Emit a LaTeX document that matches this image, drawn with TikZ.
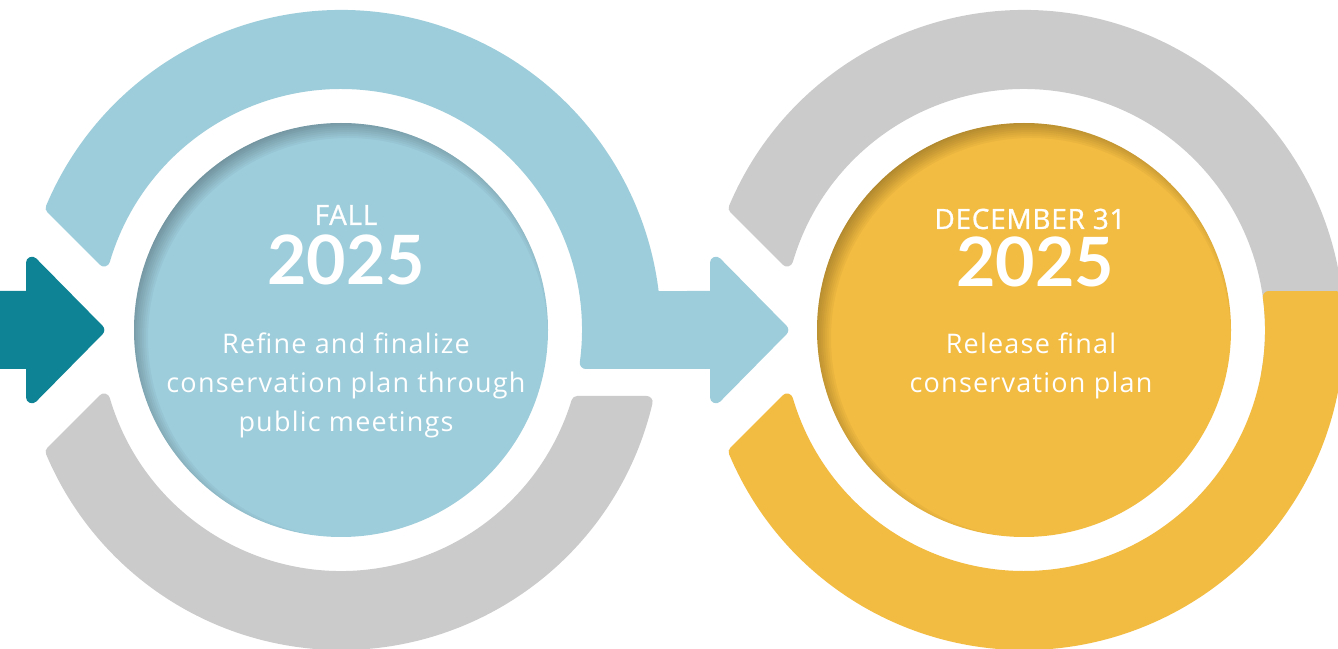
\documentclass[tikz,border=0pt]{standalone}
\usepackage{fontspec}
\setmainfont{Open Sans}
\newfontfamily\yearfont{Lato}
\newfontfamily\bodyfont[LetterSpace=4.5]{Open Sans}
\newfontfamily\headfont[FakeBold=1.0,LetterSpace=2.5]{Open Sans}
\usetikzlibrary{calc}
\definecolor{ringblue}{RGB}{157,204,218}
\definecolor{ringgray}{RGB}{203,203,203}
\definecolor{ringyellow}{RGB}{242,187,65}
\definecolor{arrowteal}{RGB}{14,131,150}
\begin{document}
\begin{tikzpicture}[x=1pt,y=1pt,
  band/.style={fill=#1, draw=#1, line width=12pt, line join=round},
  hd/.style={text=white, inner sep=0pt, anchor=base, font=\headfont\fontsize{28}{28}\selectfont},
  yr/.style={text=white, inner sep=0pt, anchor=base, font=\yearfont\fontsize{68}{68}\selectfont\bfseries},
  body/.style={text=white, inner sep=0pt, anchor=base, font=\bodyfont\fontsize{27}{39}\selectfont},
  ]
\useasboundingbox (0,0) rectangle (1338,648);
\clip (0,0) rectangle (1338,648);
\coordinate (L) at (341,318);
\coordinate (R) at (1024,318);
\pgfmathsetmacro\ao{45+acos(-167.5/(314*1.41421))}
\pgfmathsetmacro\ai{45+acos(-167.5/(247*1.41421))}
\pgfmathsetmacro\so{asin(33/314)}
\pgfmathsetmacro\si{asin(33/247)}
\pgfmathsetmacro\go{asin(72/314)}
\pgfmathsetmacro\gi{asin(72/247)}
% left ring: blue top band with arrow
\path[band=ringblue] ($(L)+(\ao:314)$) arc[start angle=\ao, end angle=\so, radius=314]
  -- (716,351) -- (716,385.3) -- (782.3,318) -- (716,250.7) -- (716,285)
  -- ($(L)+(-\si:247)$) arc[start angle=-\si, end angle=\ai, radius=247] -- cycle;
% left ring: gray bottom band
\path[band=ringgray] ($(L)+(-\ai:247)$) arc[start angle=-\ai, end angle=-\gi, radius=247]
  -- ($(L)+(-\go:314)$) arc[start angle=-\go, end angle=-\ao, radius=314] -- cycle;
% right ring: gray top band
\path[band=ringgray] ($(R)+(\ao:314)$) arc[start angle=\ao, end angle=-10, radius=314]
  -- ($(R)+(-10:247)$) arc[start angle=-10, end angle=\ai, radius=247] -- cycle;
% right ring: yellow bottom band
\path[band=ringyellow] ($(R)+(\so:314)$) -- ($(R)+(\si:247)$)
  arc[start angle=\si, end angle=-\ai, radius=247]
  -- ($(R)+(-\ao:314)$) arc[start angle=-\ao, end angle=\so, radius=314] -- cycle;
% teal entry arrow
\path[band=arrowteal] (-20,351) -- (32,351) -- (32,385.3) -- (98.3,318) -- (32,250.7) -- (32,285) -- (-20,285) -- cycle;
% inner circles with soft inner shadow toward the upper left
\fill[ringblue] (L) circle (207);
\begin{scope}
  \clip (L) circle (207);
  \foreach \k in {0,...,10}
    \draw[black, opacity=0.032, line width=80pt] ($(L)+(7,-8)$) circle ({240+2*\k});
\end{scope}
\fill[ringyellow] (R) circle (207);
\begin{scope}
  \clip (R) circle (207);
  \foreach \k in {0,...,10}
    \draw[black, opacity=0.032, line width=80pt] ($(R)+(7,-8)$) circle ({240+2*\k});
\end{scope}
% texts
\node[hd] (fall) at (346,423) {FALL};
\node[yr] (year1) at (346,363) {2025};
\node[body] (l1) at (346,294) {Refine and finalize};
\node[body] (l2) at (346,255) {conservation plan through};
\node[body] (l3) at (346,216) {public meetings};
\node[hd] (dec) at (1030,419) {DECEMBER 31};
\node[yr] (year2) at (1035,361) {2025};
\node[body] (r1) at (1031,294) {Release final};
\node[body] (r2) at (1031,255) {conservation plan};
\end{tikzpicture}
\end{document}
